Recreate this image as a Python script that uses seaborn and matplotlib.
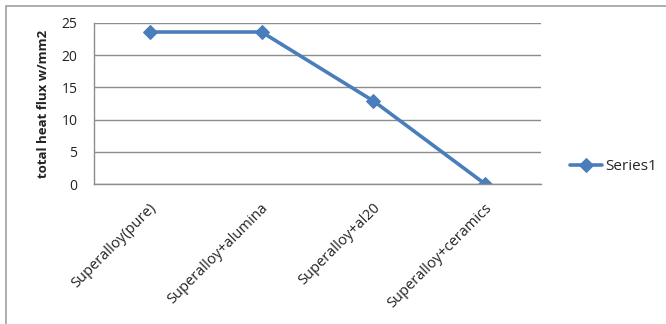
import matplotlib
matplotlib.use("Agg")
import matplotlib.pyplot as plt
import matplotlib.transforms as mtrans
import seaborn as sns
import pandas as pd
from matplotlib.patches import Rectangle

categories = ["Superalloy(pure)", "Superalloy+alumina", "Superalloy+al20", "Superalloy+ceramics"]
values = [23.6, 23.6, 12.9, 0.0]
series_name = "Series1"
y_ticks = [0, 5, 10, 15, 20, 25]

df = pd.DataFrame({"material": categories, "flux": values, "series": series_name})

sns.set_theme(style="white")
plt.rcParams["font.family"] = ["Open Sans", "DejaVu Sans"]

W, H = 666, 324
fig = plt.figure(figsize=(W / 100, H / 100), dpi=100)
ax = fig.add_axes([94 / W, 1 - 184 / H, (541 - 94) / W, (184 - 23) / H])

blue = "#4A7EBB"
sns.lineplot(data=df, x="material", y="flux", sort=False, marker="D", color=blue,
             linewidth=2.6, markersize=7, markeredgecolor=blue, label=series_name, ax=ax)

ax.set_xlim(-0.5, 3.5)
ax.set_ylim(0, 25)
ax.set_yticks(y_ticks)
ax.yaxis.grid(True, color="#8C8C8C", linewidth=1)
ax.xaxis.grid(False)
ax.set_axisbelow(True)
for s in ["top", "right"]:
    ax.spines[s].set_visible(False)
for s in ["left", "bottom"]:
    ax.spines[s].set_color("#8C8C8C")
    ax.spines[s].set_linewidth(1)
ax.tick_params(axis="both", length=0, colors="#222222")
ax.tick_params(axis="y", labelsize=10, pad=12)
ax.set_xticks(range(len(categories)))
ax.set_xticklabels(categories, rotation=45, ha="right", rotation_mode="anchor")
ax.tick_params(axis="x", labelsize=10.5, pad=12)
ax.set_xlabel("")
ax.set_ylabel("total heat flux w/mm2", fontsize=9.5, fontweight="bold", color="#222222", labelpad=8)

offset = mtrans.ScaledTranslation(-1 / 100, 0, fig.dpi_scale_trans)
for lbl in ax.get_xticklabels():
    lbl.set_transform(lbl.get_transform() + offset)

ax.get_legend().remove()
handles, labels = ax.get_legend_handles_labels()
fig.legend(handles, labels, loc="center left", bbox_to_anchor=(556 / W, 1 - 167 / H),
           frameon=False, fontsize=11, handlelength=2.1, handletextpad=0.2)

fig.patches.append(Rectangle((6 / W, -0.1), 1.2, 1 - 6 / H + 0.1, transform=fig.transFigure,
                             fill=False, edgecolor="#A0A0A0", linewidth=1.2))

fig.savefig("out.png", dpi=100)
